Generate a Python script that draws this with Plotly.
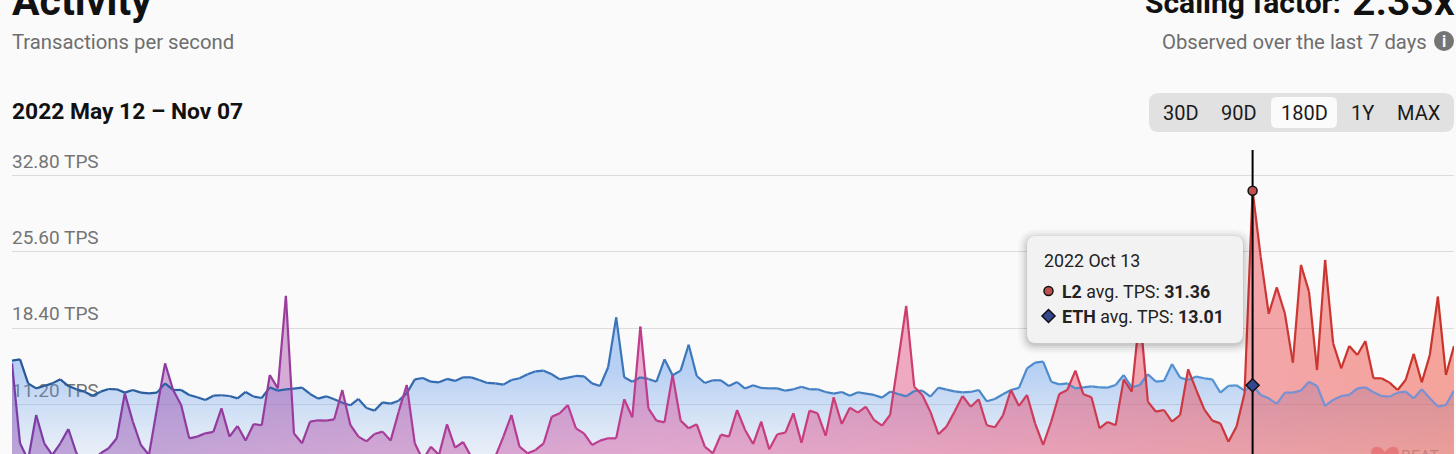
import pandas as pd
import plotly.graph_objects as go

W, H = 1456, 454
dates = pd.date_range("2022-05-12", "2022-11-07", freq="D")

eth_tps = [
    15.34,15.46,13.19,12.72,12.94,13.19,13.57,12.94,12.63,12.41,
    12.03,12.41,12.66,12.63,12.32,12.57,12.32,12.25,12.32,13.19,
    12.57,12.57,12.10,11.88,11.62,12.03,12.07,12.00,11.78,12.38,
    11.94,11.81,12.82,12.50,12.63,12.70,12.79,12.19,11.75,11.97,
    11.69,11.37,11.12,11.72,10.87,10.62,11.40,11.28,11.56,
    12.25,13.57,13.70,13.35,13.29,13.61,13.42,13.76,13.76,13.51,
    13.23,13.19,13.07,13.51,13.67,14.05,14.33,14.39,14.05,13.57,
    13.73,13.89,13.86,13.19,12.94,14.71,19.42,13.76,13.35,13.76,
    13.61,13.35,15.46,13.95,14.39,16.84,13.89,13.23,13.48,13.48,
    12.94,13.32,12.70,13.01,12.76,12.72,12.72,12.50,12.63,
    12.88,12.63,12.63,12.38,12.22,12.38,12.03,12.35,12.22,12.10,
    11.85,12.41,12.19,11.97,12.47,12.50,11.94,12.79,12.60,12.44,
    12.35,12.38,12.57,11.50,11.72,12.16,12.57,12.76,14.61,15.15,
    15.24,13.35,13.10,13.19,12.72,12.82,12.91,12.82,12.79,13.04,
    13.98,12.82,13.04,14.05,13.35,13.42,15.02,13.73,13.51,13.83,
    13.67,13.57,12.32,12.95,13.01,12.51,13.01,12.10,11.78,11.25,
    12.32,12.32,12.51,13.35,12.95,11.06,11.63,12.00,12.10,12.72,
    12.82,12.35,12.00,11.94,12.32,12.41,11.78,12.63,11.78,11.00,
    11.15,12.51,
]
l2_tps = [
    15.08,7.54,5.96,10.21,7.54,6.44,7.54,8.89,6.60,5.65,
    5.96,6.60,7.07,8.01,12.25,9.58,7.38,6.44,10.84,15.08,
    12.57,11.15,8.01,8.17,8.48,8.61,10.84,8.17,9.17,7.79,
    9.36,9.24,13.98,12.72,21.44,8.48,7.54,9.58,9.71,9.68,
    9.80,12.57,9.27,8.17,7.72,8.42,8.64,7.79,10.52,
    13.04,7.54,5.96,7.22,6.44,9.33,7.13,7.66,6.28,5.02,
    4.40,6.28,8.17,10.21,7.22,6.60,6.91,7.54,10.05,10.37,
    11.15,8.95,8.48,7.38,7.79,8.01,8.01,11.69,9.99,18.54,
    10.84,9.68,9.52,13.98,9.68,8.95,9.33,7.22,6.60,8.36,
    8.17,10.68,8.80,7.47,9.58,6.97,8.39,8.54,10.37,
    7.60,10.62,10.37,8.26,11.88,9.36,10.90,10.43,10.99,9.74,
    9.20,10.21,15.30,20.49,12.88,12.10,10.52,8.39,9.11,10.52,
    12.00,10.99,11.69,9.24,9.05,10.15,12.57,11.06,12.10,9.42,
    7.38,9.58,12.19,12.57,14.39,12.16,11.88,8.95,9.55,9.24,
    13.57,12.41,19.80,11.47,10.52,10.68,9.58,10.21,14.52,12.57,
    10.74,9.68,9.42,7.69,9.11,12.25,31.36,25.15,19.74,22.25,
    19.80,15.15,24.36,21.85,14.45,24.83,16.97,14.61,16.72,15.87,
    17.19,13.67,13.67,13.26,12.57,13.51,15.97,13.29,15.87,21.37,
    13.98,16.72,
]
tick_values = [11.20, 18.40, 25.60, 32.80]
tick_labels = ["11.20 TPS", "18.40 TPS", "25.60 TPS", "32.80 TPS"]
range_buttons = ["30D", "90D", "180D", "1Y", "MAX"]
hover_date = "2022-10-13"
hover_l2 = 31.36
hover_eth = 13.01

Y_RANGE = [6.53, 35.2]
BG = "#fafafa"


def lerp_stops(stops, t):
    for (t0, c0), (t1, c1) in zip(stops, stops[1:]):
        if t <= t1:
            f = (t - t0) / (t1 - t0)
            return "rgb(%d,%d,%d)" % tuple(round(a + (b - a) * f) for a, b in zip(c0, c1))
    return "rgb(%d,%d,%d)" % stops[-1][1]


L2_LINE = [(0, (122, 60, 165)), (0.4, (190, 60, 145)), (0.62, (205, 62, 110)), (0.85, (205, 55, 55)), (1, (200, 52, 40))]
ETH_LINE = [(0, (38, 88, 150)), (0.3, (52, 108, 180)), (0.6, (70, 130, 195)), (0.85, (85, 150, 215)),
            (0.87, (120, 145, 210)), (1, (120, 145, 210))]

fig = go.Figure()

# axis labels first, so the areas paint over them; the invisible marker lifts the text off the gridline
fig.add_trace(go.Scatter(
    x=[dates[0] - pd.Timedelta(hours=9)] * 4, y=tick_values, text=tick_labels, mode="text+markers",
    textposition="top right", cliponaxis=True, hoverinfo="skip", showlegend=False,
    marker=dict(size=3.2, opacity=0),
    textfont=dict(family="Roboto", size=19, color="#747474"),
))

fig.add_trace(go.Scatter(
    x=dates, y=eth_tps, mode="none", fill="tozeroy", hoverinfo="skip", showlegend=False,
    fillgradient=dict(type="vertical", start=6.5, stop=14.5,
                      colorscale=[[0, "rgba(110,160,230,0.12)"], [1, "rgba(90,150,235,0.42)"]]),
))
fig.add_trace(go.Scatter(
    x=dates, y=l2_tps, mode="none", fill="tozeroy", hoverinfo="skip", showlegend=False,
    fillgradient=dict(type="horizontal",
                      colorscale=[[0, "rgba(125,60,175,0.42)"], [0.45, "rgba(215,70,150,0.42)"],
                                  [0.7, "rgba(230,70,110,0.46)"], [1, "rgba(238,70,50,0.48)"]]),
))
n = len(dates)
for i in range(n - 1):
    fig.add_trace(go.Scatter(
        x=dates[i:i + 2], y=eth_tps[i:i + 2], mode="lines", hoverinfo="skip", showlegend=False,
        line=dict(color=lerp_stops(ETH_LINE, i / (n - 1)), width=2.2),
    ))
for i in range(n - 1):
    fig.add_trace(go.Scatter(
        x=dates[i:i + 2], y=l2_tps[i:i + 2], mode="lines", hoverinfo="skip", showlegend=False,
        line=dict(color=lerp_stops(L2_LINE, i / (n - 1)), width=2.2),
    ))

# crosshair and hover markers
fig.add_trace(go.Scatter(x=[hover_date, hover_date], y=Y_RANGE, mode="lines", hoverinfo="skip",
                         showlegend=False, line=dict(color="#000000", width=2)))
fig.add_trace(go.Scatter(x=[hover_date], y=[hover_l2], mode="markers", hoverinfo="skip", showlegend=False,
                         marker=dict(symbol="circle", size=9, color="#c0504d", line=dict(color="#111", width=1.5))))
fig.add_trace(go.Scatter(x=[hover_date], y=[hover_eth], mode="markers", hoverinfo="skip", showlegend=False,
                         marker=dict(symbol="diamond", size=10, color="#34478f", line=dict(color="#111", width=1.5))))


def px(x):
    return x / W


def py(y):
    return 1 - y / H


def rrect(x0, y0, x1, y1, r):
    return (f"M{px(x0 + r)},{py(y0)} L{px(x1 - r)},{py(y0)} Q{px(x1)},{py(y0)} {px(x1)},{py(y0 + r)} "
            f"L{px(x1)},{py(y1 - r)} Q{px(x1)},{py(y1)} {px(x1 - r)},{py(y1)} "
            f"L{px(x0 + r)},{py(y1)} Q{px(x0)},{py(y1)} {px(x0)},{py(y1 - r)} "
            f"L{px(x0)},{py(y0 + r)} Q{px(x0)},{py(y0)} {px(x0 + r)},{py(y0)} Z")


shapes = []


def add_path(path, fill, layer="above", line=None):
    shapes.append(dict(type="path", xref="paper", yref="paper", path=path, fillcolor=fill,
                       line=line or dict(width=0), layer=layer))


def note(text, x, y, size, color="#111111", xanchor="left", yanchor="middle", family="Roboto", weight=None):
    font = dict(family=family, size=size, color=color)
    if weight:
        font["weight"] = weight
    return dict(text=text, xref="paper", yref="paper", x=px(x), y=py(y), showarrow=False,
                xanchor=xanchor, yanchor=yanchor, align="left", xshift=0, yshift=0,
                font=font, borderpad=0, borderwidth=0)


# range buttons
add_path(rrect(1149, 93, 1454, 132, 10), "#e1e1e1", layer="below")
add_path(rrect(1271, 97, 1337, 128, 6), "#fbfbfb", layer="below")
# info icon
shapes.append(dict(type="circle", xref="paper", yref="paper", x0=px(1434), x1=px(1454), y0=py(31), y1=py(51),
                   fillcolor="#757575", line=dict(width=0), layer="below"))

# watermark
heart = (f"M{px(1385)},{py(452)} C{px(1378)},{py(442)} {px(1368)},{py(448)} {px(1372)},{py(456)} "
         f"L{px(1385)},{py(468)} L{px(1398)},{py(456)} C{px(1402)},{py(448)} {px(1392)},{py(442)} {px(1385)},{py(452)} Z")
add_path(heart, "rgba(225,90,95,0.55)")

# tooltip with soft shadow
for grow, alpha in [(9, 0.02), (7, 0.025), (5, 0.035), (3, 0.05), (1, 0.07)]:
    add_path(rrect(1027 - grow, 236 - grow + 2, 1243 + grow, 343 + grow + 2, 10 + grow), f"rgba(0,0,0,{alpha})")
add_path(rrect(1027, 236, 1243, 343, 9), "#f2f2f2")
shapes.append(dict(type="circle", xref="paper", yref="paper", x0=px(1044), x1=px(1053), y0=py(286.5), y1=py(295.5),
                   fillcolor="#c0504d", line=dict(color="#111", width=1.5), layer="above"))
add_path(f"M{px(1048.5)},{py(309.5)} L{px(1055)},{py(316)} L{px(1048.5)},{py(322.5)} L{px(1042)},{py(316)} Z",
         "#34478f", line=dict(color="#111", width=1.5))

annotations = [
    note("<b>Activity</b>", 12, 1, 41),
    note("Transactions per second", 12, 42, 20.3, "#6e6e6e"),
    note("<b>2022 May 12 – Nov 07</b>", 12, 111, 22.8),
    note("<b>Scaling factor:</b>", 1145, 2, 30),
    note("2.33x", 1352, 1, 41, weight=600),
    note("Observed over the last 7 days", 1427, 42, 20.3, "#6e6e6e", xanchor="right"),
    note("<b>i</b>", 1444, 41, 16, "#fafafa", xanchor="center"),
    note("2022 Oct 13", 1044, 260, 17.8, "#222222"),
    note("<b>L2</b> avg. TPS: <b>31.36</b>", 1062, 291, 17.8, "#222222"),
    note("<b>ETH</b> avg. TPS: <b>13.01</b>", 1062, 316, 17.8, "#222222"),
    note("BEAT", 1401, 456, 16, "rgba(190,120,120,0.8)"),
]
centers = [1181, 1239, 1304, 1362, 1419]
for label, cx in zip(range_buttons, centers):
    annotations.append(note(label, cx, 113, 20, "#1a1a1a", xanchor="center"))

fig.update_layout(
    width=W, height=H, autosize=False, showlegend=False, hovermode=False,
    margin=dict(l=0, r=0, t=0, b=0, pad=0),
    paper_bgcolor=BG, plot_bgcolor=BG,
    shapes=shapes, annotations=annotations,
    xaxis=dict(domain=[px(12), px(1454)], range=[dates[0], dates[-1]], type="date", visible=False),
    yaxis=dict(domain=[0, py(150)], range=Y_RANGE, tickvals=tick_values, showticklabels=False, ticks="",
               showgrid=True, gridcolor="#dcdcdc", gridwidth=1, zeroline=False, showline=False),
)
fig.write_html("out.html", config=dict(displayModeBar=False),
               post_script="document.body.style.margin='0';document.body.style.overflow='hidden';")
